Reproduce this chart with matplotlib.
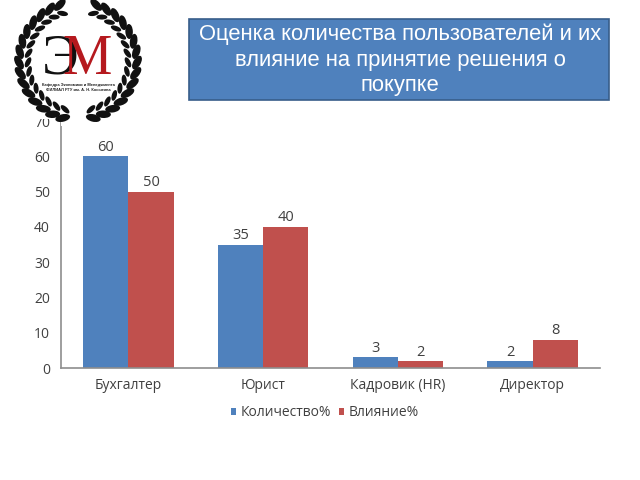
import numpy as np
import matplotlib
matplotlib.use("Agg")
import matplotlib.pyplot as plt
from matplotlib.patches import Ellipse, Rectangle

W, H = 640, 480

categories = ["Бухгалтер", "Юрист", "Кадровик (HR)", "Директор"]
kolichestvo = [60, 35, 3, 2]
vliyanie = [50, 40, 2, 8]
y_ticks = [0, 10, 20, 30, 40, 50, 60, 70]
series_names = ["Количество%", "Влияние%"]
title_text = "Оценка количества пользователей и их\nвлияние на принятие решения о\nпокупке"
logo_lines = ["Кафедра Экономики и Менеджмента", "ФИЛИАЛ РГУ им. А. Н. Косыгина"]

BLUE = "#4F81BD"
RED = "#C0504D"
GREY = "#8E8E8E"
TXT = "#404040"
LABEL_FONT = "Open Sans"

fig = plt.figure(figsize=(6.4, 4.8), dpi=100)

# chart
ax = fig.add_axes([61 / W, (H - 368) / H, (600 - 61) / W, (368 - 121) / H])
x = np.arange(len(categories))
bw = 0.335
b1 = ax.bar(x - bw / 2, kolichestvo, bw, color=BLUE, label=series_names[0])
b2 = ax.bar(x + bw / 2, vliyanie, bw, color=RED, label=series_names[1])
for bars in (b1, b2):
    ax.bar_label(bars, padding=1, fontsize=10.5, color=TXT, family=LABEL_FONT)

ax.set_xlim(-0.5, 3.5)
ax.set_ylim(0, 70)
ax.set_yticks(y_ticks)
ax.set_xticks(x)
ax.set_xticklabels(categories, fontsize=10, color=TXT, family=LABEL_FONT)
for lab in ax.get_yticklabels():
    lab.set_fontsize(10)
    lab.set_color(TXT)
    lab.set_family(LABEL_FONT)
ax.tick_params(axis="x", length=0, pad=7.5)
ax.tick_params(axis="y", length=0, pad=8)
for side in ("top", "right"):
    ax.spines[side].set_visible(False)
for side in ("left", "bottom"):
    ax.spines[side].set_color(GREY)
    ax.spines[side].set_linewidth(1.2)

fig.legend(loc="center", bbox_to_anchor=(325 / W, (H - 413) / H), ncol=2, frameon=False,
           prop={"family": LABEL_FONT, "size": 10}, labelcolor=TXT,
           handlelength=0.36, handleheight=0.36, handletextpad=0.3, columnspacing=0.6)

# overlay in pixel coordinates for the logo and the title box
ov = fig.add_axes([0, 0, 1, 1], zorder=5)
ov.set_xlim(0, W)
ov.set_ylim(H, 0)
ov.axis("off")
ov.patch.set_alpha(0)

# white logo background hides the top of the axis
ov.add_patch(Rectangle((0, 0), 178, 119, color="white", lw=0))
ov.add_patch(Rectangle((61, 119), 3, 7, color="white", lw=0))

# laurel wreath, two rows of leaves on each side
cx, cy = 78, 61
for sign in (-1, 1):
    for deg in np.arange(-72, 78, 10.5):
        t = np.radians(deg)
        tan_ang = np.degrees(np.arctan2(-np.cos(t), sign * np.sin(t)))
        for r, size, off in ((59, (15, 7.5), sign * 28), (50, (11, 5), -sign * 28)):
            px = cx + sign * r * np.cos(t)
            py = cy + r * np.sin(t)
            ov.add_patch(Ellipse((px, py), size[0], size[1], angle=tan_ang + off,
                                 color="#111111", lw=0))

# logo letters
ov.text(60, 74, "Э", family="Liberation Serif", fontsize=40, color="#111111",
        ha="center", va="baseline")
ov.text(87, 74, "М", family="Liberation Serif", fontsize=40, color="#B5191E",
        ha="center", va="baseline")
ov.text(78, 85, logo_lines[0], family="Liberation Sans", fontsize=2.9, ha="center", va="center",
        color="#222222", fontweight="bold")
ov.text(78, 90, logo_lines[1], family="Liberation Sans", fontsize=2.9, ha="center", va="center",
        color="#222222", fontweight="bold")

# title box
ov.add_patch(Rectangle((188.5, 18.5), 420, 81, facecolor=BLUE, edgecolor="#385D8A", lw=1.2))
ov.text(400, 60, title_text, family="Liberation Sans", fontsize=15.8, color="white",
        ha="center", va="center", linespacing=1.28)

fig.savefig("out.png", dpi=100)
